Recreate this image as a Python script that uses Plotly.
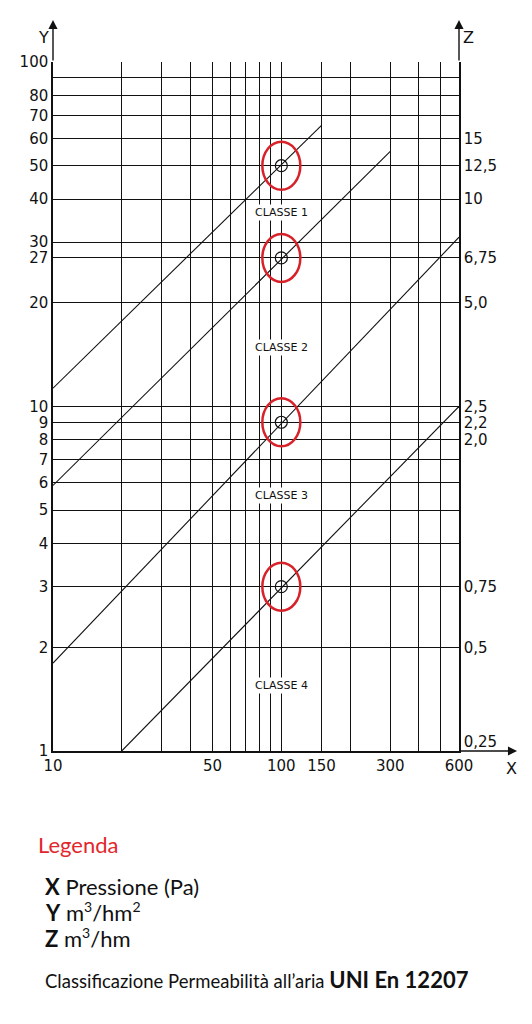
import numpy as np
import plotly.graph_objs as go

# pressure (Pa) gridlines and labels
x_grid = [10, 20, 30, 40, 50, 60, 70, 80, 90, 100, 150, 200, 300, 400, 500, 600]
x_labels = ['10', '', '', '', '50', '', '', '', '', '100', '150', '', '300', '', '', '600']

# Y m3/hm2 gridlines and labels
y_grid = [1, 2, 3, 4, 5, 6, 7, 8, 9, 10, 20, 27, 30, 40, 50, 60, 70, 80, 90, 100]
y_labels = ['1', '2', '3', '4', '5', '6', '7', '8', '9', '10', '20', '27', '30',
            '40', '50', '60', '70', '80', '', '100']

# Z m3/hm labels on the right
z_pos = [60, 50, 40, 27, 20, 10, 9, 8, 3, 2, 1]
z_labels = ['15', '12,5', '10', '6,75', '5,0', '2,5', '2,2', '2,0', '0,75', '0,5',
            '0,25<br>\u00a0']  # empty second line lifts it above the X arrow

# class limit lines (start / end)
class_names = ['CLASSE 1', 'CLASSE 2', 'CLASSE 3', 'CLASSE 4']
line_x = [[10, 150], [10, 300], [10, 600], [20, 600]]
line_y = [[11.3, 65.5], [5.9, 55], [1.8, 31], [1.0, 10]]

# reference values at 100 Pa
ref_x = 100
ref_y = [50, 27, 9, 3]

# where the class names sit
label_y = [36.5, 14.8, 5.5, 1.55]

tick_font = dict(family='DejaVu Sans', size=15, color='#111')

traces = []
for lx, ly in zip(line_x, line_y):
    traces.append(go.Scatter(x=lx, y=ly, mode='lines',
                             line=dict(color='#111', width=1.1),
                             showlegend=False, hoverinfo='skip'))

traces.append(go.Scatter(x=[ref_x] * len(ref_y), y=ref_y, mode='markers',
                         marker=dict(symbol='circle-open-dot', size=12,
                                     color='#111', line=dict(width=1.2)),
                         showlegend=False))

# invisible trace so the Z axis gets drawn
traces.append(go.Scatter(x=[ref_x], y=[ref_y[0]], yaxis='y2', mode='markers',
                         marker=dict(opacity=0), showlegend=False, hoverinfo='skip'))


def ellipse_path(rx, ry):
    k = 0.5523
    return ('M %g,0 C %g,%g %g,%g 0,%g C %g,%g %g,%g %g,0 '
            'C %g,%g %g,%g 0,%g C %g,%g %g,%g %g,0 Z' % (
                rx, rx, k * ry, k * rx, ry, ry,
                -k * rx, ry, -rx, k * ry, -rx,
                -rx, -k * ry, -k * rx, -ry, -ry,
                k * rx, -ry, rx, -k * ry, rx))


shapes = []
for v in ref_y:
    shapes.append(dict(type='path', xref='x', yref='y',
                       xsizemode='pixel', ysizemode='pixel',
                       xanchor=ref_x, yanchor=v,
                       path=ellipse_path(19, 24),
                       line=dict(color='#d8222a', width=2.5)))

annotations = []
for name, ly in zip(class_names, label_y):
    annotations.append(dict(x=np.log10(ref_x), y=np.log10(ly), xref='x', yref='y',
                            text=name, showarrow=False, bgcolor='white',
                            font=dict(family='DejaVu Sans', size=11, color='#111'),
                            borderpad=1))

# axis arrows
arrow = dict(showarrow=True, arrowhead=2, arrowsize=1.3, arrowwidth=1.4,
             arrowcolor='#111', text='', xref='paper', yref='paper', standoff=0)
annotations.append(dict(arrow, x=0, y=1.061, ax=0, ay=42))
annotations.append(dict(arrow, x=1, y=1.061, ax=0, ay=42))
annotations.append(dict(arrow, x=1.143, y=0, ax=-59, ay=0))

axis_font = dict(family='DejaVu Sans', size=16, color='#111')
center = dict(xref='paper', yref='paper', xanchor='center', yanchor='middle',
              showarrow=False, font=axis_font)
annotations.append(dict(center, x=-0.024, y=1.036, text='Y'))
annotations.append(dict(center, x=1.024, y=1.036, text='Z'))
annotations.append(dict(center, x=1.129, y=-0.025, text='X'))

# legend block under the chart
legend_font = dict(family='Lato', size=22, color='#111')
left = dict(xref='paper', yref='paper', xanchor='left', yanchor='middle', showarrow=False)
sup = "<sup><span style='font-size:14px'>%s</span></sup>"
annotations.append(dict(left, x=-0.041, y=-0.1364, text='Legenda',
                        font=dict(family='Lato', size=22, color='#e3262b')))
annotations.append(dict(left, x=-0.024, y=-0.196, text='<b>X</b> Pressione (Pa)',
                        font=legend_font))
annotations.append(dict(left, x=-0.024, y=-0.2337,
                        text='<b>Y</b> m' + sup % '3' + '/hm' + sup % '2',
                        font=legend_font))
annotations.append(dict(left, x=-0.024, y=-0.2714,
                        text='<b>Z</b> m' + sup % '3' + '/hm', font=legend_font))
annotations.append(dict(left, x=-0.024, y=-0.332,
                        text="Classificazione Permeabilità all’aria "
                             "<b><span style='font-size:22px'>UNI En 12207</span></b>",
                        font=dict(family='Lato', size=18.5, color='#111')))

# the page body keeps an 8px margin, so left/top margins are 8px smaller
layout = go.Layout(
    width=524,
    height=1016,
    margin=dict(l=39, r=73, t=54, b=273),
    paper_bgcolor='white',
    plot_bgcolor='white',
    showlegend=False,
    xaxis=dict(type='log', range=[np.log10(10), np.log10(600)],
               tickvals=x_grid, ticktext=x_labels, tickfont=tick_font,
               showgrid=True, gridcolor='#111', gridwidth=1.2,
               showline=True, linecolor='#111', linewidth=1.5,
               ticks='', zeroline=False),
    yaxis=dict(type='log', range=[0, 2],
               tickvals=y_grid, ticktext=y_labels, tickfont=tick_font,
               showgrid=True, gridcolor='#111', gridwidth=1.2,
               showline=True, linecolor='#111', linewidth=1.5,
               ticks='', zeroline=False),
    yaxis2=dict(type='log', range=[0, 2], overlaying='y', side='right',
                tickvals=z_pos, ticktext=z_labels, tickfont=tick_font,
                showgrid=False, showline=True, linecolor='#111', linewidth=1.5,
                ticks='', zeroline=False),
    shapes=shapes,
    annotations=annotations,
)

fig = go.Figure(data=traces, layout=layout)
fig.write_html("out.html")
